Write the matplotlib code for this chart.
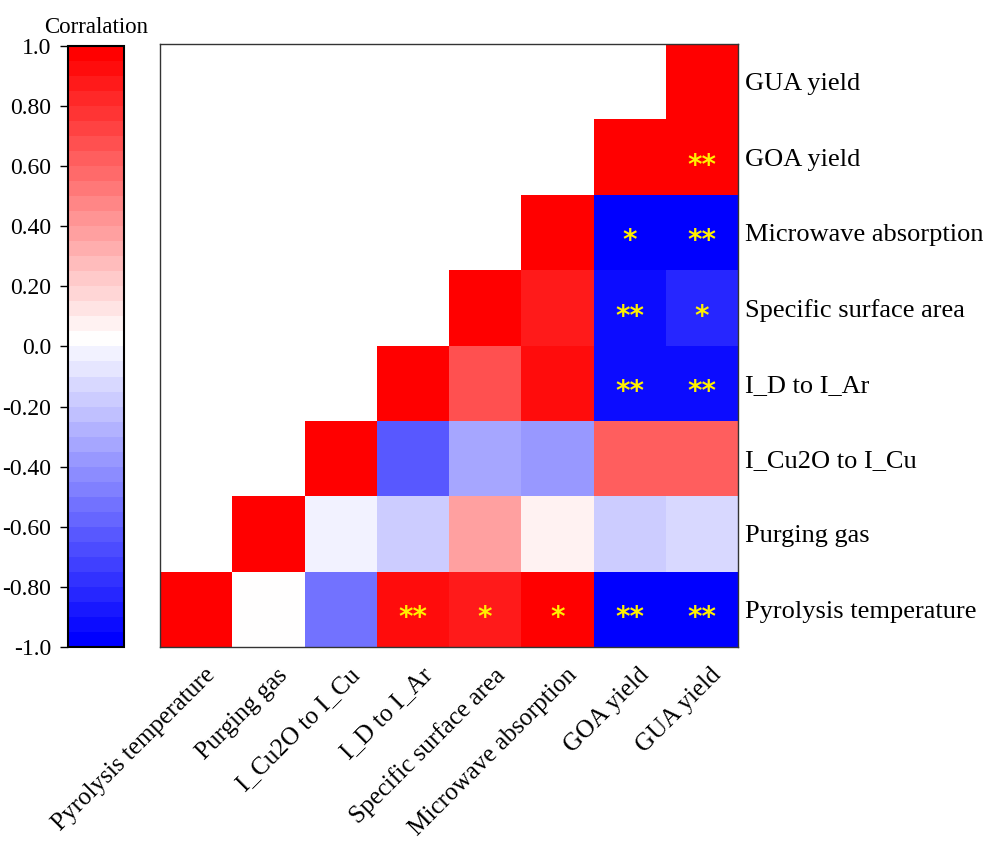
import matplotlib
matplotlib.use("Agg")
import matplotlib.pyplot as plt
import matplotlib.transforms as mtransforms
import numpy as np
from matplotlib.colors import Normalize, ListedColormap

plt.rcParams['font.family'] = ['Liberation Serif', 'DejaVu Serif']

variables = ['Pyrolysis temperature', 'Purging gas', 'I_Cu2O to I_Cu', 'I_D to I_Ar',
             'Specific surface area', 'Microwave absorption', 'GOA yield', 'GUA yield']

# upper triangle of the correlation matrix, row i holds columns i..7
corr_rows = [
    [1.00, 0.00, -0.53, 0.90, 0.85, 0.98, -0.97, -0.97],
    [1.00, -0.03, -0.18, 0.39, 0.08, -0.18, -0.14],
    [1.00, -0.65, -0.34, -0.39, 0.60, 0.60],
    [1.00, 0.69, 0.92, -0.90, -0.94],
    [1.00, 0.88, -0.90, -0.80],
    [1.00, -0.99, -0.98],
    [1.00, 0.99],
    [1.00],
]

# significance marks, same layout as corr_rows
sig_rows = [
    ['', '', '', '**', '*', '*', '**', '**'],
    ['', '', '', '', '', '', ''],
    ['', '', '', '', '', ''],
    ['', '', '', '**', '**'],
    ['', '', '**', '*'],
    ['', '*', '**'],
    ['', '**'],
    [''],
]

cbar_ticks = [1.0, 0.8, 0.6, 0.4, 0.2, 0.0, -0.2, -0.4, -0.6, -0.8, -1.0]
cbar_labels = ['1.0', '0.80', '0.60', '0.40', '0.20', '0.0',
               '-0.20', '-0.40', '-0.60', '-0.80', '-1.0']

n = len(variables)
mat = np.full((n, n), np.nan)
for i, row in enumerate(corr_rows):
    for k, v in enumerate(row):
        mat[i, i + k] = v
mat = np.ma.masked_invalid(mat)

# 40 steps: 20 blue steps up to just below white, 20 from white to full red
neg = plt.cm.bwr(np.arange(20) / 40)
pos = plt.cm.bwr(0.5 + np.arange(20) / 38)
cmap = ListedColormap(np.vstack([neg, pos]))
norm = Normalize(-1, 1)

fig = plt.figure(figsize=(9.83, 8.43), dpi=100)
ax = fig.add_axes([0.1628, 0.2325, 0.588, 0.7153])
mesh = ax.pcolormesh(np.arange(n + 1), np.arange(n + 1), mat, cmap=cmap, norm=norm)
ax.set_xlim(0, n)
ax.set_ylim(0, n)

for i, row in enumerate(sig_rows):
    for k, s in enumerate(row):
        if s:
            ax.text(i + k + 0.5, i + 0.38, s, ha='center', va='center',
                    color='#FFF000', fontsize=20, fontweight='bold', family='DejaVu Sans')

# bottom labels drawn as rotated text hanging below each column
ax.set_xticks([])
xlab_tr = ax.get_xaxis_transform() + mtransforms.ScaledTranslation(0.08, -0.17, fig.dpi_scale_trans)
for j, name in enumerate(variables):
    ax.text(j + 0.5, 0, name, transform=xlab_tr, rotation=45, ha='right', va='top',
            rotation_mode='anchor', fontsize=18.1)

ax.set_yticks(np.arange(n) + 0.5)
ax.set_yticklabels(variables, fontsize=19)
ax.yaxis.tick_right()
ax.tick_params(axis='y', length=0, pad=5)
for sp in ax.spines.values():
    sp.set_linewidth(1.0)
    sp.set_color('#333333')

cax = fig.add_axes([0.0692, 0.2325, 0.057, 0.713])
cb = fig.colorbar(mesh, cax=cax)
cb.outline.set_linewidth(1.5)
cax.yaxis.set_ticks_position('left')
cb.set_ticks(cbar_ticks)
cb.set_ticklabels(cbar_labels)
cax.tick_params(labelsize=17, length=6, width=1, pad=6)
cax.set_title('Corralation', fontsize=16.5, pad=9)

fig.savefig('out.png', dpi=100)
